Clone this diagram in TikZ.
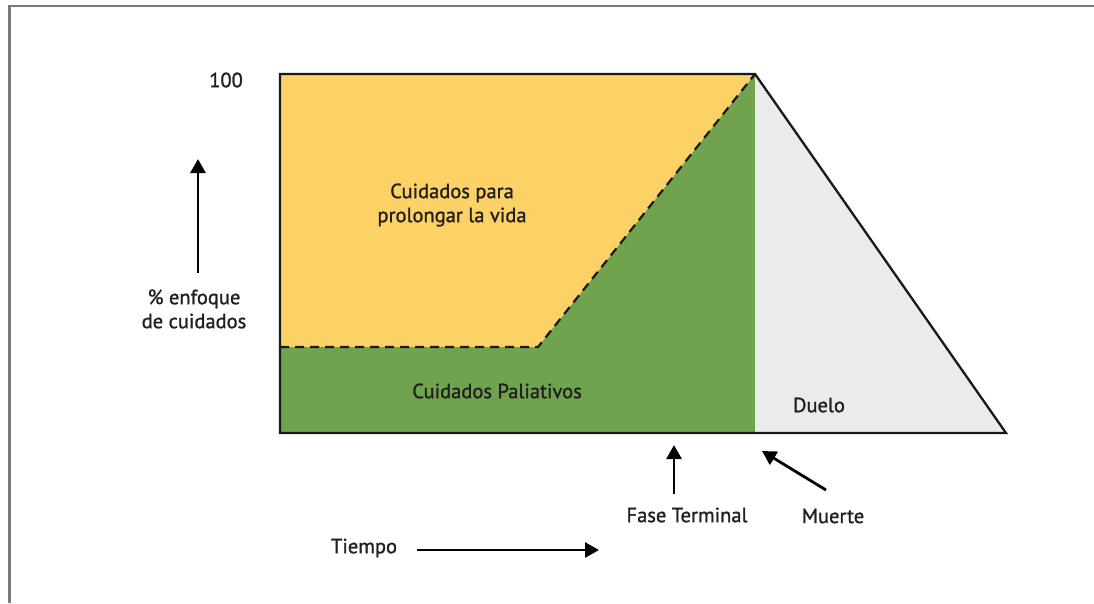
\documentclass[tikz,border=0pt]{standalone}
\usepackage{fontspec}
\setmainfont{PT Sans}
\newfontfamily\lblfont{PT Sans}[FakeBold=1.2]
\usetikzlibrary{arrows.meta}
\definecolor{orangefill}{HTML}{FCD166}
\definecolor{greenfill}{HTML}{6FA34E}
\definecolor{grayfill}{HTML}{E9EBEC}
\definecolor{framegray}{HTML}{7A7A7A}
\definecolor{textdark}{HTML}{231F20}
\tikzset{
  lbl/.style={font=\lblfont\fontsize{20.5}{24}\selectfont, text=textdark, inner sep=0pt, align=center},
  arr/.style={line width=2.8pt, -{Triangle[length=14pt,width=15pt]}},
  outline/.style={line width=2.3pt, black!90}
}
\begin{document}
\begin{tikzpicture}[x=1pt,y=-1pt]
\useasboundingbox (0,0) rectangle (1094,603);
% frame
\draw[framegray, line width=2.5pt] (9.5,603) -- (9.5,6) -- (1094,6);
% coordinates
\coordinate (tl) at (280,74);
\coordinate (bl) at (280,433);
\coordinate (peak) at (755,74);
\coordinate (pb) at (755,433);
\coordinate (br) at (1006,433);
\coordinate (dl) at (280,347);
\coordinate (dk) at (538,347);
% fills
\fill[orangefill] (tl) -- (peak) -- (dk) -- (dl) -- cycle;
\fill[greenfill] (dl) -- (dk) -- (peak) -- (pb) -- (bl) -- cycle;
\fill[grayfill] (peak) -- (br) -- (pb) -- cycle;
% dashed boundary
\draw[dash pattern=on 9pt off 6pt, line width=2.2pt, black!90] (dl) -- (dk) -- (peak);
% outline
\draw[outline, line join=miter] (peak) -- (tl) -- (bl) -- (br) -- cycle;
% labels
\node[lbl, anchor=east] (n100) at (243,80) {100};
\node[lbl] (prolong) at (452,205) {Cuidados para\\prolongar la vida};
\node[lbl] (enfoque) at (194,309) {\% enfoque\\de cuidados};
\node[lbl] (palia) at (497,391) {Cuidados Paliativos};
\node[lbl] (duelo) at (819,405) {Duelo};
\node[lbl] (fase) at (687,515) {Fase Terminal};
\node[lbl] (muerte) at (833,516) {Muerte};
\node[lbl] (tiempo) at (364,548) {Tiempo};
% arrows
\coordinate (a1s) at (198,273); \coordinate (a1e) at (198,159);
\draw[arr] (a1s) -- (a1e);
\coordinate (a2s) at (674,494); \coordinate (a2e) at (674,445);
\draw[arr] (a2s) -- (a2e);
\coordinate (a3s) at (826,490); \coordinate (a3e) at (762,451);
\draw[arr] (a3s) -- (a3e);
\coordinate (a4s) at (417,550); \coordinate (a4e) at (599,550);
\draw[arr] (a4s) -- (a4e);
\end{tikzpicture}
\end{document}
